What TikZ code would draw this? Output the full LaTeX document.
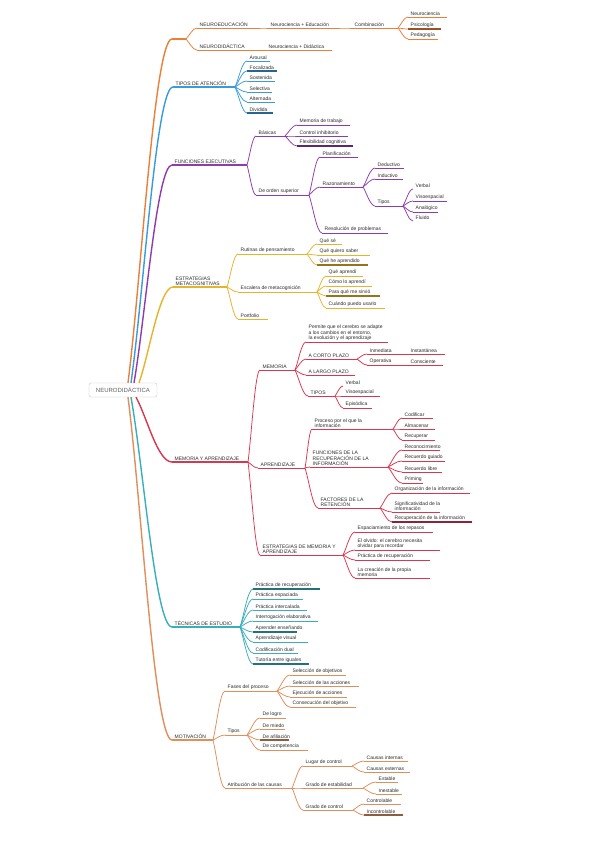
\documentclass[tikz,border=0pt]{standalone}
\usepackage{fontspec}
\setmainfont{Liberation Sans}
\usetikzlibrary{calc}
\definecolor{txt}{HTML}{2B2B2B}
\definecolor{cOr}{HTML}{E8803A}
\definecolor{cBl}{HTML}{3A9BDC}
\definecolor{cPu}{HTML}{8E3BAF}
\definecolor{cYe}{HTML}{E6B42A}
\definecolor{cRe}{HTML}{D9364F}
\definecolor{cTe}{HTML}{38AFBA}
\definecolor{cMo}{HTML}{DE8F5C}
\colorlet{cur}{cOr}
\tikzset{
 tx/.style={anchor=south west, inner xsep=2.5pt, inner ysep=0.8pt, font=\fontsize{5}{5.9}\selectfont, text=txt, align=left},
 ul/.style={draw=cur, line width=0.75pt},
 dk/.style={draw=cur!65!black, line width=1.1pt},
 mainul/.style={draw=cur, line width=1.4pt},
 lk/.style={draw=cur, line width=0.75pt},
 mainlk/.style={draw=cur, line width=1.4pt},
}
\newcommand\mmT[6][]{\coordinate (#2-s) at (#3,#4); \coordinate (#2-e) at (#5,#4); \node[tx] (#2) at (#3,#4) {#6}; \draw[ul,#1] (#2-s) -- (#2-e);}
\newcommand\mmL[3][]{\draw[lk,#1] let \p1=(#2), \p2=(#3) in (\p1) .. controls ($(\p1)!0.3!(\p2)$) and ({0.4*\x1+0.6*\x2},\y2) .. (\p2);}
\begin{document}
\begin{tikzpicture}[x=1pt,y=-1pt]
\useasboundingbox[fill=white] (0,0) rectangle (599,848);
% root
\node[draw=gray!45, rounded corners=2pt, fill=white, minimum width=68pt, minimum height=14pt, inner sep=0pt, font=\fontsize{6}{7}\selectfont, text=gray!75!black] (root) at (123,390) {NEURODIDÁCTICA};
\coordinate (r1) at ($(root.north)+(5,0)$);
\coordinate (r2) at ($(root.north)+(8,0)$);
\coordinate (r3) at ($(root.north)+(11,0)$);
\coordinate (r4) at ($(root.north)+(16,0)$);
\coordinate (r5) at ($(root.south)+(13,0)$);
\coordinate (r6) at ($(root.south)+(8,0)$);
\coordinate (r7) at ($(root.south)+(5,0)$);

% ORANGE
\colorlet{cur}{cOr}
\coordinate (og-s) at (172,39); \coordinate (og-e) at (186,39); \draw[mainul] (og-s) -- (og-e);
\mmL[mainlk]{r1}{og-s}
\mmT{ne}{197}{28}{258}{NEUROEDUCACIÓN}
\mmT{nce}{268}{28}{338}{Neurociencia + Educación}
\mmT{comb}{352}{28}{398}{Combinación}
\mmT{neu}{408}{17}{447}{Neurociencia}
\mmT[dk]{psi}{408}{29}{441}{Psicología}
\mmT{ped}{408}{39}{438}{Pedagogía}
\mmT{nd}{197}{50}{262}{NEURODIDÁCTICA}
\mmT{ncd}{266}{50}{332}{Neurociencia + Didáctica}
\mmL{og-e}{ne-s} \mmL{og-e}{nd-s} \mmL{ne-e}{nce-s} \mmL{nce-e}{comb-s}
\mmL{comb-e}{neu-s} \mmL{comb-e}{psi-s} \mmL{comb-e}{ped-s} \mmL{nd-e}{ncd-s}

% BLUE
\colorlet{cur}{cBl}
\mmT[mainul]{ta}{173}{87}{235}{TIPOS DE ATENCIÓN}
\mmL[mainlk]{r2}{ta-s}
\mmT{aro}{247}{61}{270}{Arousal}
\mmT[dk]{foc}{247}{71}{277}{Focalizada}
\mmT{sos}{247}{81}{275}{Sostenida}
\mmT{sel}{247}{92}{272}{Selectiva}
\mmT{alt}{247}{102}{275}{Alternada}
\mmT[dk]{div}{247}{113}{273}{Dividida}
\foreach \c in {aro,foc,sos,sel,alt,div}{\mmL{ta-e}{\c-s}}

% PURPLE
\colorlet{cur}{cPu}
\mmT[mainul]{fe}{172}{165}{247}{FUNCIONES EJECUTIVAS}
\mmL[mainlk]{r3}{fe-s}
\mmT{bas}{256}{136}{285}{Básicas}
\mmT{mt}{297}{125}{350}{Memoria de trabajo}
\mmT{ci}{297}{136}{348}{Control inhibitorio}
\mmT[dk]{fc}{297}{146}{353}{Flexibilidad cognitiva}
\mmT{dos}{256}{195}{309}{De orden superior}
\mmT{pla}{320}{157}{358}{Planificación}
\mmT{raz}{320}{187}{363}{Razonamiento}
\mmT{ded}{375}{168}{404}{Deductivo}
\mmT{ind}{375}{179}{403}{Inductivo}
\mmT{tip}{375}{206}{403}{Tipos}
\mmT[draw=none]{vb}{413}{189}{433}{Verbal}
\mmT{ve}{413}{201}{447}{Visoespacial}
\mmT{an}{413}{212}{438}{Analógico}
\mmT[draw=none]{fl}{413}{221}{430}{Fluido}
\mmT{res}{322}{233}{388}{Resolución de problemas}
\mmL{fe-e}{bas-s} \mmL{fe-e}{dos-s}
\mmL{bas-e}{mt-s} \mmL{bas-e}{ci-s} \mmL{bas-e}{fc-s}
\mmL{dos-e}{pla-s} \mmL{dos-e}{raz-s} \mmL{dos-e}{res-s}
\mmL{raz-e}{ded-s} \mmL{raz-e}{ind-s} \mmL{raz-e}{tip-s}
\mmL{tip-e}{vb-s} \mmL{tip-e}{ve-s} \mmL{tip-e}{an-s} \mmL{tip-e}{fl-s}

% YELLOW
\colorlet{cur}{cYe}
\mmT[mainul]{em}{173}{287}{227}{ESTRATEGIAS\\METACOGNITIVAS}
\mmL[mainlk]{r4}{em-s}
\mmT{rut}{238}{254}{307}{Rutinas de pensamiento}
\mmT{qs}{317}{244}{342}{Qué sé}
\mmT{qqs}{317}{255}{370}{Qué quiero saber}
\mmT[dk]{qha}{317}{265}{368}{Qué he aprendido}
\mmT{esc}{238}{292}{317}{Escalera de metacognición}
\mmT{qa}{326}{276}{363}{Qué aprendí}
\mmT{cla}{326}{286}{372}{Cómo lo aprendí}
\mmT[dk]{pqs}{326}{296}{380}{Para qué me sirvió}
\mmT{cpu}{326}{308}{385}{Cuándo puedo usarlo}
\mmT{por}{238}{319}{268}{Portfolio}
\mmL{em-e}{rut-s} \mmL{em-e}{esc-s} \mmL{em-e}{por-s}
\mmL{rut-e}{qs-s} \mmL{rut-e}{qqs-s} \mmL{rut-e}{qha-s}
\mmL{esc-e}{qa-s} \mmL{esc-e}{cla-s} \mmL{esc-e}{pqs-s} \mmL{esc-e}{cpu-s}

% RED
\colorlet{cur}{cRe}
\mmT[mainul]{mya}{172}{462}{248}{MEMORIA Y APRENDIZAJE}
\mmL[mainlk]{r5}{mya-s}
\mmT{mem}{260}{370}{295}{MEMORIA}
\mmT{per}{306}{342}{388}{Permite que el cerebro se adapte\\a los cambios en el entorno,\\la evolución y el aprendizaje}
\mmT{acp}{306}{359}{357}{A CORTO PLAZO}
\mmT{inm}{367}{354}{404}{Inmediata}
\mmT{ins}{408}{354}{445}{Instantánea}
\mmT{ope}{367}{365}{404}{Operativa}
\mmT{con}{408}{365}{443}{Consciente}
\mmT{alp}{306}{375}{355}{A LARGO PLAZO}
\mmT{tps}{308}{396}{335}{TIPOS}
\mmT[draw=none]{vbb}{343}{386}{365}{Verbal}
\mmT{veb}{343}{396}{380}{Visoespacial}
\mmT{epi}{343}{408}{372}{Episódica}
\mmT{apr}{258}{468}{305}{APRENDIZAJE}
\mmT{pro}{312}{429}{393}{Proceso por el que la\\información}
\mmT{cod}{402}{418}{433}{Codificar}
\mmT{alm}{402}{429}{435}{Almacenar}
\mmT{rec}{402}{440}{435}{Recuperar}
\mmT{fun}{310}{467}{388}{FUNCIONES DE LA\\RECUPERACIÓN DE LA\\INFORMACIÓN}
\mmT{rcn}{402}{450}{440}{Reconocimiento}
\mmT{rcg}{402}{461}{445}{Recuerdo guiado}
\mmT{rcl}{402}{472}{442}{Recuerdo libre}
\mmT{pri}{402}{483}{423}{Priming}
\mmT{fac}{318}{508}{380}{FACTORES DE LA\\RETENCIÓN}
\mmT{org}{392}{493}{470}{Organización de la información}
\mmT{sig}{392}{512}{440}{Significatividad de la\\información}
\mmT[dk]{rcu}{392}{522}{472}{Recuperación de la información}
\mmT{emy}{260}{555}{343}{ESTRATEGIAS DE MEMORIA Y\\APRENDIZAJE}
\mmT{esp}{355}{532}{433}{Espaciamiento de los repasos}
\mmT{olv}{355}{550}{440}{El olvido: el cerebro necesita\\olvidar para recordar}
\mmT{pdr}{355}{560}{430}{Práctica de recuperación}
\mmT{lcp}{355}{578}{430}{La creación de la propia\\memoria}
\mmL{mya-e}{mem-s} \mmL{mya-e}{apr-s} \mmL{mya-e}{emy-s}
\mmL{mem-e}{per-s} \mmL{mem-e}{acp-s} \mmL{mem-e}{alp-s} \mmL{mem-e}{tps-s}
\mmL{acp-e}{inm-s} \mmL{acp-e}{ope-s} \mmL{inm-e}{ins-s} \mmL{ope-e}{con-s}
\mmL{tps-e}{vbb-s} \mmL{tps-e}{veb-s} \mmL{tps-e}{epi-s}
\mmL{apr-e}{pro-s} \mmL{apr-e}{fun-s} \mmL{apr-e}{fac-s}
\mmL{pro-e}{cod-s} \mmL{pro-e}{alm-s} \mmL{pro-e}{rec-s}
\mmL{fun-e}{rcn-s} \mmL{fun-e}{rcg-s} \mmL{fun-e}{rcl-s} \mmL{fun-e}{pri-s}
\mmL{fac-e}{org-s} \mmL{fac-e}{sig-s} \mmL{fac-e}{rcu-s}
\mmL{emy-e}{esp-s} \mmL{emy-e}{olv-s} \mmL{emy-e}{pdr-s} \mmL{emy-e}{lcp-s}

% TEAL
\colorlet{cur}{cTe}
\mmT[mainul]{tec}{172}{627}{240}{TÉCNICAS DE ESTUDIO}
\mmL[mainlk]{r6}{tec-s}
\mmT[dk]{ta1}{253}{589}{320}{Práctica de recuperación}
\mmT{ta2}{253}{599}{303}{Práctica espaciada}
\mmT{ta3}{253}{610}{307}{Práctica intercalada}
\mmT{ta4}{253}{621}{318}{Interrogación elaborativa}
\mmT[dk]{ta5}{253}{632}{297}{Aprender enseñando}
\mmT{ta6}{253}{642}{308}{Aprendizaje visual}
\mmT{ta7}{253}{653}{298}{Codificación dual}
\mmT[dk]{ta8}{253}{664}{309}{Tutoría entre iguales}
\foreach \c in {ta1,ta2,ta3,ta4,ta5,ta6,ta7,ta8}{\mmL{tec-e}{\c-s}}

% MOTIVACION
\colorlet{cur}{cMo}
\mmT[mainul]{mot}{172}{740}{213}{MOTIVACIÓN}
\mmL[mainlk]{r7}{mot-s}
\mmT{fdp}{225}{691}{277}{Fases del proceso}
\mmT{mo1}{290}{675}{346}{Selección de objetivos}
\mmT{mo2}{290}{686}{359}{Selección de las acciones}
\mmT{mo3}{290}{697}{347}{Ejecución de acciones}
\mmT{mo4}{290}{707}{356}{Consecución del objetivo}
\mmT{mtp}{225}{735}{247}{Tipos}
\mmT{dl}{260}{718}{286}{De logro}
\mmT{dm}{260}{729}{285}{De miedo}
\mmT[dk]{da}{260}{740}{289}{De afiliación}
\mmT{dc}{260}{750}{308}{De competencia}
\mmT{atr}{225}{788}{292}{Atribución de las causas}
\mmT{lc}{303}{766}{352}{Lugar de control}
\mmT{cin}{364}{761}{408}{Causas internas}
\mmT{cex}{364}{772}{410}{Causas externas}
\mmT{ge}{303}{788}{363}{Grado de estabilidad}
\mmT{est}{376}{782}{398}{Estable}
\mmT{ine}{376}{794}{402}{Inestable}
\mmT{gc}{303}{810}{353}{Grado de control}
\mmT{ctl}{364}{804}{401}{Controlable}
\mmT[dk]{inc}{364}{815}{403}{Incontrolable}
\mmL{mot-e}{fdp-s} \mmL{mot-e}{mtp-s} \mmL{mot-e}{atr-s}
\mmL{fdp-e}{mo1-s} \mmL{fdp-e}{mo2-s} \mmL{fdp-e}{mo3-s} \mmL{fdp-e}{mo4-s}
\mmL{mtp-e}{dl-s} \mmL{mtp-e}{dm-s} \mmL{mtp-e}{da-s} \mmL{mtp-e}{dc-s}
\mmL{atr-e}{lc-s} \mmL{atr-e}{ge-s} \mmL{atr-e}{gc-s}
\mmL{lc-e}{cin-s} \mmL{lc-e}{cex-s}
\mmL{ge-e}{est-s} \mmL{ge-e}{ine-s}
\mmL{gc-e}{ctl-s} \mmL{gc-e}{inc-s}
\end{tikzpicture}
\end{document}
